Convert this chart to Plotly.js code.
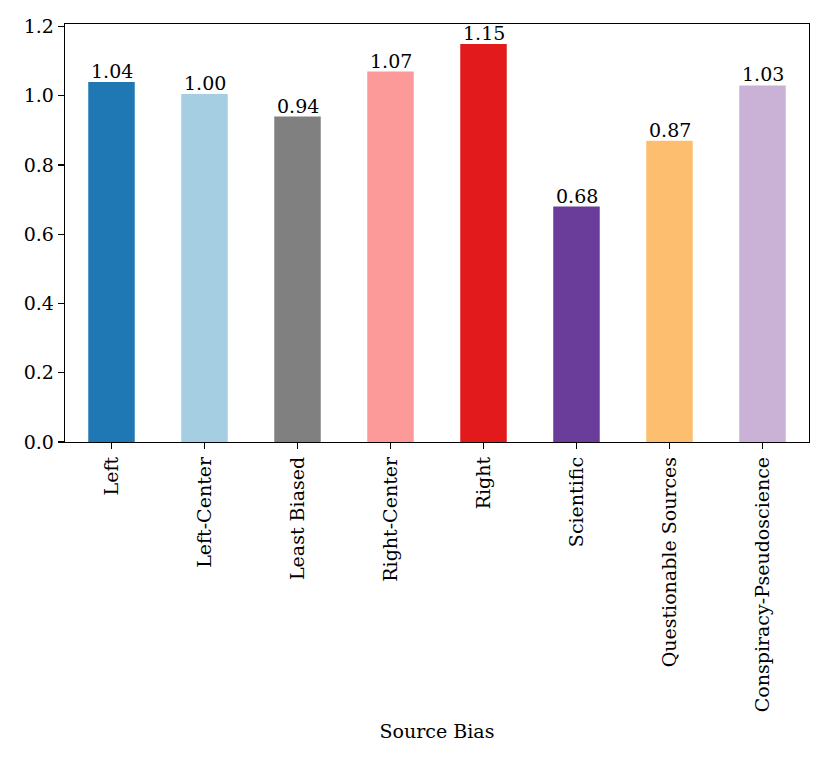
<!DOCTYPE html>
<html>
<head>
<meta charset="utf-8">
<script src="https://cdn.plot.ly/plotly-3.0.1.min.js"></script>
<style>
  html, body { margin: 0; padding: 0; background: #fff; }
  #plot { width: 830px; height: 761px; }
</style>
</head>
<body>
<div id="plot"></div>
<script>
const categories = ["Left", "Left-Center", "Least Biased", "Right-Center", "Right",
                    "Scientific", "Questionable Sources", "Conspiracy-Pseudoscience"];
const values = [1.04, 1.005, 0.94, 1.07, 1.15, 0.68, 0.87, 1.03];
const labels = ["1.04", "1.00", "0.94", "1.07", "1.15", "0.68", "0.87", "1.03"];
const colors = ["#1f77b4", "#a6cee3", "#808080", "#fb9a99", "#e31a1c",
                "#6a3d9a", "#fdbf6f", "#cab2d6"];
const yTicks = [0, 0.2, 0.4, 0.6, 0.8, 1.0, 1.2];

const font = "DejaVu Serif, serif";
const fsize = 19;
const idx = categories.map((c, i) => i);

const bars = {
    type: "bar",
    x: idx,
    y: values,
    width: 0.5,
    marker: {color: colors, line: {width: 0}},
    hoverinfo: "x+y"
};

// value labels sitting right on top of each bar
const valueLabels = idx.map(i => ({
    x: i,
    y: values[i],
    text: labels[i],
    xref: "x",
    yref: "y",
    yanchor: "bottom",
    showarrow: false,
    yshift: -2,
    font: {family: font, size: fsize, color: "#000"}
}));

Plotly.newPlot("plot", [bars], {
    width: 830,
    height: 761,
    margin: {l: 65, r: 21, t: 24, b: 319},
    paper_bgcolor: "#fff",
    plot_bgcolor: "#fff",
    font: {family: font, size: fsize, color: "#000"},
    showlegend: false,
    annotations: valueLabels,
    xaxis: {
        range: [-0.5, 7.5],
        tickvals: idx,
        ticktext: categories,
        tickangle: -90,
        ticks: "outside",
        ticklen: 6,
        tickwidth: 1.2,
        tickcolor: "#000",
        showline: true,
        linecolor: "#000",
        linewidth: 1.3,
        mirror: true,
        showgrid: false,
        zeroline: false,
        automargin: false,
        title: {text: "Source Bias", font: {family: font, size: fsize}, standoff: 13}
    },
    yaxis: {
        range: [0, 1.2075],
        tickvals: yTicks,
        tickformat: ".1f",
        ticks: "outside",
        ticklen: 6,
        tickwidth: 1.2,
        tickcolor: "#000",
        showline: true,
        linecolor: "#000",
        linewidth: 1.3,
        mirror: true,
        showgrid: false,
        zeroline: false,
        automargin: false
    }
}, {displayModeBar: false, staticPlot: true});
</script>
</body>
</html>
